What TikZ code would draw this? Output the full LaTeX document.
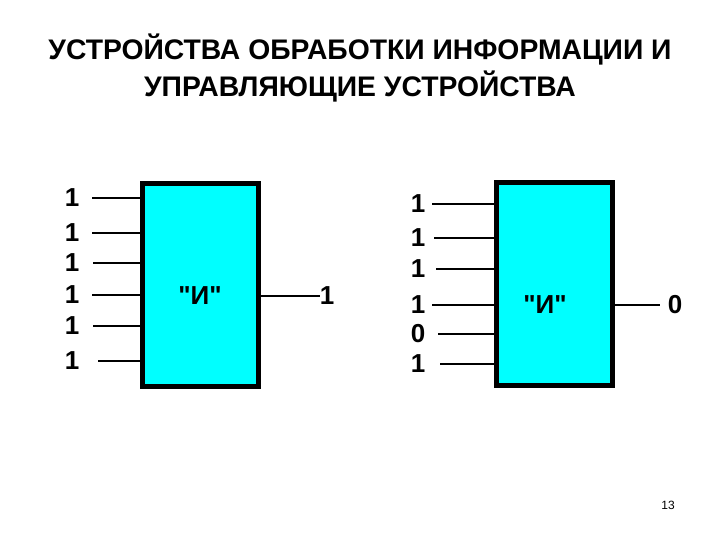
\documentclass[tikz,border=0pt]{standalone}
\usepackage{fontspec}
\setmainfont{Liberation Sans}
\definecolor{gatecyan}{RGB}{0,255,255}
\tikzset{
  gate/.style={draw=black,line width=5pt,fill=gatecyan,minimum width=116pt,minimum height=202pt,inner sep=0pt},
  bit/.style={font=\fontsize{26}{26}\selectfont\bfseries,inner sep=0pt},
  wire/.style={line width=1.6pt}
}
\begin{document}
\begin{tikzpicture}[x=1pt,y=-1pt]
\useasboundingbox (0,0) rectangle (720,540);
\node[font=\fontsize{28.3}{37}\selectfont\bfseries,align=center] (title) at (360,68)
  {УСТРОЙСТВА ОБРАБОТКИ ИНФОРМАЦИИ И\\УПРАВЛЯЮЩИЕ УСТРОЙСТВА};
% left gate: all ones
\node[gate] (gateA) at (200,285) {};
\node[bit] (andA) at (200,296) {\textquotedbl И\textquotedbl};
\foreach \y/\s/\b [count=\i] in {198/92/1,233/92/1,263/93/1,295/92/1,326/93/1,361/98/1} {
  \node[bit] (inA\i) at (72,\y) {\b};
  \coordinate (startA\i) at (\s,\y);
  \draw[wire] (startA\i) -- (startA\i -| gateA.west);
}
\node[bit] (outA) at (327,296) {1};
\draw[wire] (outA.west -| gateA.east) -- (outA.west);
% right gate: one zero
\node[gate] (gateB) at (554,284) {};
\node[bit] (andB) at (545,305) {\textquotedbl И\textquotedbl};
\foreach \y/\s/\b [count=\i] in {204/432/1,238/434/1,269/436/1,305/432/1,334/438/0,364/440/1} {
  \node[bit] (inB\i) at (418,\y) {\b};
  \coordinate (startB\i) at (\s,\y);
  \draw[wire] (startB\i) -- (startB\i -| gateB.west);
}
\node[bit] (outB) at (675,305) {0};
\coordinate (endB) at (660,305);
\draw[wire] (endB -| gateB.east) -- (endB);
\node[font=\fontsize{12}{12}\selectfont] (page) at (668,505) {13};
\end{tikzpicture}
\end{document}
